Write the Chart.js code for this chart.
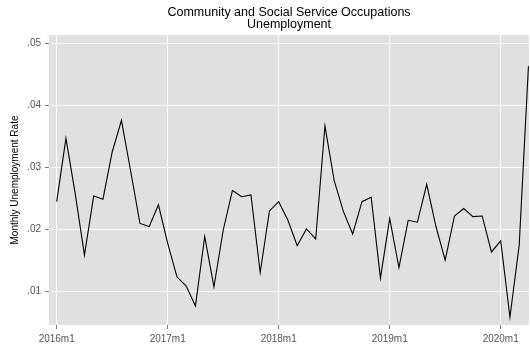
<!DOCTYPE html>
<html>
<head>
<meta charset="utf-8">
<script src="https://cdn.jsdelivr.net/npm/chart.js@4.4.1/dist/chart.umd.min.js"></script>
<style>
    html, body { margin: 0; padding: 0; background: white; }
    #wrap { width: 530px; height: 347px; }
</style>
</head>
<body>
<div id="wrap"><canvas id="myChart" width="530" height="347"></canvas></div>
<script>
// months 2016m1 .. 2020m4
const months = [];
for (let y = 2016; y <= 2020; y++) {
    for (let m = 1; m <= 12; m++) {
        months.push(y + 'm' + m);
    }
}
months.length = 52;

// monthly unemployment rate
const rates = [
    0.0245, 0.0347, 0.0258, 0.0159, 0.0254, 0.0249, 0.0325, 0.0376, 0.0294, 0.0210, 0.0205, 0.0240,
    0.0178, 0.0124, 0.0109, 0.0077, 0.0189, 0.0108, 0.0199, 0.0263, 0.0253, 0.0256, 0.0131, 0.0230,
    0.0245, 0.0215, 0.0174, 0.0201, 0.0185, 0.0367, 0.0279, 0.0229, 0.0193, 0.0245, 0.0252, 0.0122,
    0.0218, 0.0139, 0.0215, 0.0212, 0.0273, 0.0205, 0.0151, 0.0222, 0.0234, 0.0221, 0.0222, 0.0164,
    0.0182, 0.0059, 0.0175, 0.0463
];

const yTicks = [0.01, 0.02, 0.03, 0.04, 0.05];
const xTicks = [0, 12, 24, 36, 48]; // 2016m1 .. 2020m1

const panelBg = {
    id: 'panelBg',
    beforeDraw: chart => {
        const a = chart.chartArea;
        const ctx = chart.ctx;
        ctx.save();
        ctx.fillStyle = '#e0e0e0';
        ctx.fillRect(a.left, a.top, a.right - a.left, a.bottom - a.top);
        ctx.restore();
    }
};

const tickFont = { family: 'Liberation Sans', size: 10 };

const chart = new Chart(document.getElementById('myChart'), {
    type: 'line',
    data: {
        datasets: [{
            data: rates.map((v, i) => ({ x: i, y: v })),
            borderColor: '#000',
            borderWidth: 1.1,
            pointRadius: 0,
            tension: 0,
            fill: false
        }]
    },
    options: {
        responsive: false,
        animation: false,
        layout: { padding: { right: 1 } },
        plugins: {
            legend: { display: false },
            tooltip: { enabled: false },
            title: {
                display: true,
                fullSize: false,
                text: ['Community and Social Service Occupations', 'Unemployment'],
                color: '#000',
                font: { family: 'Liberation Sans', size: 12.5, weight: 'normal', lineHeight: 0.96 },
                padding: { top: 7, bottom: 4 }
            }
        },
        scales: {
            x: {
                type: 'linear',
                min: -0.832,
                max: 51.06,
                afterBuildTicks: scale => {
                    scale.ticks = xTicks.map(v => ({ value: v }));
                },
                afterFit: scale => { scale.height = 22; },
                ticks: {
                    autoSkip: false,
                    maxRotation: 0,
                    color: '#555',
                    font: tickFont,
                    padding: 4,
                    callback: v => months[v]
                },
                grid: { color: '#fff', lineWidth: 1, tickColor: '#777', tickLength: 4 },
                border: { display: false }
            },
            y: {
                min: 0.00464,
                max: 0.05134,
                afterBuildTicks: scale => {
                    scale.ticks = yTicks.map(v => ({ value: v }));
                },
                afterFit: scale => { scale.width = 49; },
                ticks: {
                    color: '#555',
                    font: tickFont,
                    padding: 4,
                    callback: v => v.toFixed(2).replace(/^0/, '')
                },
                title: {
                    display: true,
                    text: 'Monthly Unemployment Rate',
                    color: '#000',
                    font: { family: 'Liberation Sans', size: 10 },
                    padding: { top: 9, bottom: 0 }
                },
                grid: { color: '#fff', lineWidth: 1, tickColor: '#777', tickLength: 4 },
                border: { display: false }
            }
        }
    },
    plugins: [panelBg]
});
</script>
</body>
</html>
